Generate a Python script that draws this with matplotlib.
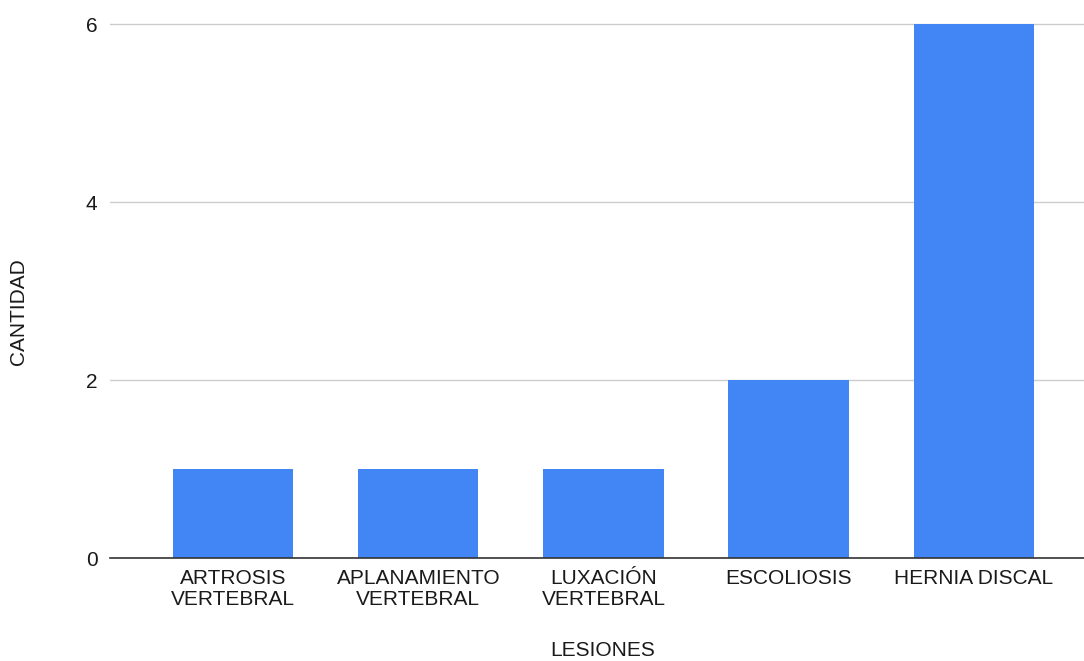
import matplotlib
matplotlib.use("Agg")
import matplotlib.pyplot as plt

categories = ["ARTROSIS\nVERTEBRAL", "APLANAMIENTO\nVERTEBRAL", "LUXACIÓN\nVERTEBRAL",
              "ESCOLIOSIS", "HERNIA DISCAL"]
counts = [1, 1, 1, 2, 6]
yticks = [0, 2, 4, 6]

plt.rcParams["font.family"] = ["Liberation Sans", "DejaVu Sans"]
FS = 15
TXT = "#1a1a1a"

fig = plt.figure(figsize=(10.84, 6.61), dpi=100)
ymax = 6.05
zero_px, six_px = 558, 24
top_px = zero_px - (zero_px - six_px) * ymax / 6
ax = fig.add_axes([110 / 1084, 1 - zero_px / 661, 1 - 110 / 1084, (zero_px - top_px) / 661])

x = list(range(len(categories)))
ax.bar(x, counts, width=0.65, color="#4285F4", zorder=3)

ax.set_xlim(-0.665, 4.595)
ax.set_ylim(0, ymax)
ax.set_yticks(yticks)
ax.set_yticklabels([str(v) for v in yticks], fontsize=FS, color=TXT)
ax.set_xticks(x)
ax.set_xticklabels(categories, fontsize=FS, color=TXT, linespacing=1.12)
ax.tick_params(axis="both", length=0)
ax.tick_params(axis="y", pad=9)
ax.tick_params(axis="x", pad=8)

ax.yaxis.grid(True, color="#cccccc", linewidth=1, zorder=0)
for s in ["top", "right", "left"]:
    ax.spines[s].set_visible(False)
ax.spines["bottom"].set_color("#333333")
ax.spines["bottom"].set_linewidth(1.2)
ax.spines["bottom"].set_zorder(4)

fig.text(19 / 1084, 1 - 312 / 661, "CANTIDAD", rotation=90, ha="center", va="center",
         fontsize=FS, color=TXT)
fig.text(603 / 1084, 1 - 651 / 661, "LESIONES", ha="center", va="center",
         fontsize=FS, color=TXT)

fig.savefig("out.png", dpi=100)
